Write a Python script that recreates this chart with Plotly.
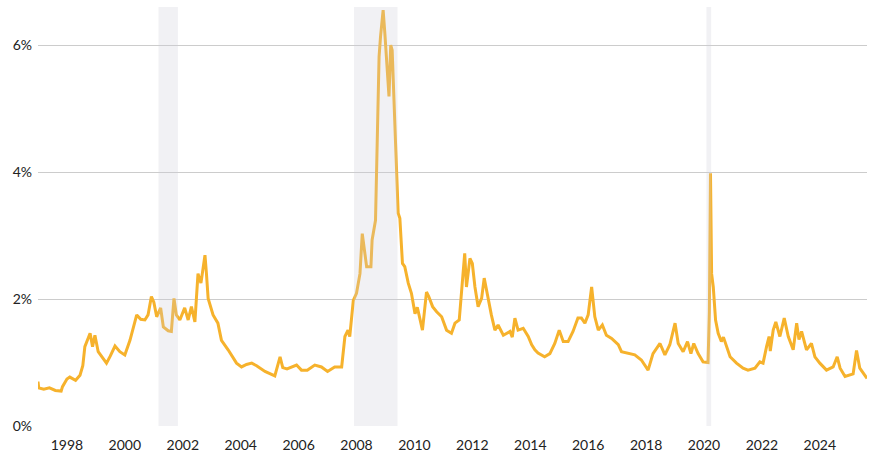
import plotly.graph_objects as go

dates = [
    "1997-01-01", "1997-01-10", "1997-03-15", "1997-05-25", "1997-08-08", "1997-10-20", "1997-11-06",
    "1998-01-01", "1998-02-06", "1998-04-20", "1998-06-15", "1998-07-20", "1998-08-15", "1998-10-20",
    "1998-11-20", "1998-12-20", "1999-01-30", "1999-03-15", "1999-05-15", "1999-07-01", "1999-08-30",
    "1999-10-30", "2000-01-01", "2000-03-06", "2000-04-20", "2000-05-30", "2000-07-20", "2000-09-10",
    "2000-10-20", "2000-12-01", "2001-01-01", "2001-02-06", "2001-03-28", "2001-05-01", "2001-07-01",
    "2001-08-10", "2001-09-12", "2001-10-12", "2001-11-25", "2002-01-25", "2002-03-10", "2002-04-20",
    "2002-06-03", "2002-07-12", "2002-08-18", "2002-10-08", "2002-10-26", "2002-11-17", "2003-01-18",
    "2003-03-20", "2003-05-04", "2003-07-27", "2003-11-10", "2004-01-12", "2004-03-15", "2004-05-20",
    "2004-07-20", "2004-11-03", "2005-03-07", "2005-05-12", "2005-06-15", "2005-08-08", "2005-12-06",
    "2006-02-06", "2006-04-20", "2006-07-24", "2006-10-16", "2007-01-01", "2007-04-01", "2007-06-28",
    "2007-08-08", "2007-09-16", "2007-10-08", "2007-11-22", "2008-01-01", "2008-02-14", "2008-03-14",
    "2008-05-08", "2008-07-01", "2008-07-16", "2008-08-28", "2008-09-13", "2008-10-12", "2008-10-30",
    "2008-12-02", "2008-12-24", "2009-01-23", "2009-02-14", "2009-03-08", "2009-03-26", "2009-05-08",
    "2009-06-10", "2009-07-01", "2009-08-03", "2009-09-01", "2009-10-15", "2009-11-24", "2010-01-08",
    "2010-02-06", "2010-04-12", "2010-06-02", "2010-07-01", "2010-08-18", "2010-10-08", "2010-12-10",
    "2011-02-10", "2011-04-13", "2011-05-27", "2011-07-20", "2011-08-18", "2011-09-27", "2011-10-19",
    "2011-12-02", "2012-01-01", "2012-02-03", "2012-03-14", "2012-04-27", "2012-05-30", "2012-07-20",
    "2012-08-28", "2012-10-12", "2012-11-21", "2013-01-26", "2013-04-20", "2013-05-19", "2013-06-21",
    "2013-07-31", "2013-10-04", "2013-12-06", "2014-01-19", "2014-02-28", "2014-04-09", "2014-07-01",
    "2014-09-05", "2014-11-06", "2015-01-01", "2015-02-21", "2015-04-23", "2015-06-24", "2015-08-25",
    "2015-10-08", "2015-11-21", "2016-01-01", "2016-02-14", "2016-03-25", "2016-05-08", "2016-06-28",
    "2016-08-18", "2016-10-23", "2017-01-15", "2017-02-24", "2017-05-19", "2017-08-11", "2017-11-02",
    "2018-01-26", "2018-03-29", "2018-06-25", "2018-08-26", "2018-10-27", "2019-01-01", "2019-02-10",
    "2019-04-13", "2019-06-07", "2019-07-20", "2019-08-25", "2019-10-19", "2019-12-20", "2020-02-21",
    "2020-03-09", "2020-03-23", "2020-04-06", "2020-04-27", "2020-05-26", "2020-06-28", "2020-08-07",
    "2020-09-02", "2020-11-25", "2021-02-14", "2021-05-08", "2021-07-09", "2021-10-05", "2021-12-06",
    "2022-01-15", "2022-02-28", "2022-04-01", "2022-04-16", "2022-05-23", "2022-06-25", "2022-08-15",
    "2022-10-09", "2022-11-29", "2023-01-30", "2023-03-15", "2023-04-13", "2023-05-16", "2023-07-17",
    "2023-09-17", "2023-10-31", "2024-01-01", "2024-03-25", "2024-06-17", "2024-08-07", "2024-09-13",
    "2024-11-14", "2025-01-15", "2025-02-24", "2025-04-08", "2025-05-19", "2025-07-20", "2025-08-18",
]

spread_pct = [
    0.70, 0.60, 0.58, 0.60, 0.56, 0.55, 0.62,
    0.74, 0.77, 0.72, 0.80, 0.95, 1.25, 1.46,
    1.25, 1.43, 1.17, 1.10, 0.99, 1.10, 1.26,
    1.17, 1.12, 1.35, 1.55, 1.75, 1.68, 1.67,
    1.75, 2.04, 1.95, 1.72, 1.86, 1.56, 1.50,
    1.49, 2.01, 1.75, 1.67, 1.86, 1.67, 1.88,
    1.64, 2.40, 2.25, 2.69, 2.41, 2.01, 1.75,
    1.62, 1.35, 1.20, 0.99, 0.93, 0.97, 0.99,
    0.95, 0.86, 0.79, 1.09, 0.92, 0.90, 0.96,
    0.88, 0.88, 0.96, 0.93, 0.86, 0.93, 0.93,
    1.41, 1.51, 1.41, 1.98, 2.09, 2.40, 3.03,
    2.51, 2.51, 2.93, 3.24, 4.08, 5.82, 6.13,
    6.55, 6.18, 5.58, 5.19, 6.00, 5.92, 4.45,
    3.35, 3.27, 2.56, 2.51, 2.25, 2.09, 1.77,
    1.87, 1.51, 2.11, 2.04, 1.88, 1.80, 1.72,
    1.51, 1.46, 1.62, 1.67, 2.14, 2.72, 2.19,
    2.64, 2.56, 2.19, 1.88, 2.01, 2.33, 1.98,
    1.75, 1.51, 1.59, 1.43, 1.49, 1.40, 1.70,
    1.51, 1.54, 1.41, 1.28, 1.20, 1.15, 1.09,
    1.14, 1.30, 1.51, 1.33, 1.33, 1.49, 1.70,
    1.70, 1.62, 1.75, 2.19, 1.72, 1.51, 1.59,
    1.43, 1.38, 1.28, 1.17, 1.14, 1.12, 1.04,
    0.88, 1.14, 1.30, 1.12, 1.28, 1.62, 1.30,
    1.17, 1.33, 1.14, 1.30, 1.14, 1.01, 1.00,
    1.80, 3.98, 2.40, 2.19, 1.67, 1.46, 1.33,
    1.40, 1.09, 0.99, 0.91, 0.88, 0.91, 1.01,
    0.99, 1.25, 1.41, 1.18, 1.51, 1.64, 1.41,
    1.70, 1.41, 1.20, 1.62, 1.36, 1.49, 1.20,
    1.30, 1.09, 0.99, 0.88, 0.93, 1.09, 0.91,
    0.78, 0.80, 0.82, 1.19, 0.91, 0.80, 0.75,
]

recession_start = ["2001-03-01", "2007-12-01", "2020-02-01"]
recession_end = ["2001-11-01", "2009-06-01", "2020-04-01"]

tick_years = [str(y) for y in range(1998, 2026, 2)]
tick_vals = [f"{y}-01-01" for y in tick_years]
y_ticks = [0, 2, 4, 6]
y_tick_text = ["0%", "2%", "4%", "6%"]

fig = go.Figure()
fig.add_trace(go.Scatter(
    x=dates, y=spread_pct, mode="lines",
    line=dict(color="#F6B22C", width=3),
    hoverinfo="skip", showlegend=False,
))

for s, e in zip(recession_start, recession_end):
    fig.add_shape(type="rect", xref="x", yref="paper", x0=s, x1=e, y0=0, y1=1,
                  fillcolor="rgba(205,205,215,0.28)", line=dict(width=0), layer="above")

fig.update_layout(
    width=879, height=467,
    margin=dict(l=38, r=12, t=7, b=41),
    paper_bgcolor="white", plot_bgcolor="white",
    font=dict(family="Lato, Roboto, sans-serif", size=14, color="#222222"),
    xaxis=dict(
        type="date", range=["1997-01-01", "2025-08-18"],
        tickvals=tick_vals, ticktext=tick_years,
        showgrid=False, zeroline=False, showline=False, ticks="",
        ticklabelstandoff=9,
    ),
    yaxis=dict(
        range=[0, 6.6], tickvals=y_ticks, ticktext=y_tick_text,
        showgrid=True, gridcolor="#CCCCCC", gridwidth=1,
        zeroline=False, showline=False, ticks="",
        ticklabelstandoff=5,
    ),
)

fig.write_html("out.html")
